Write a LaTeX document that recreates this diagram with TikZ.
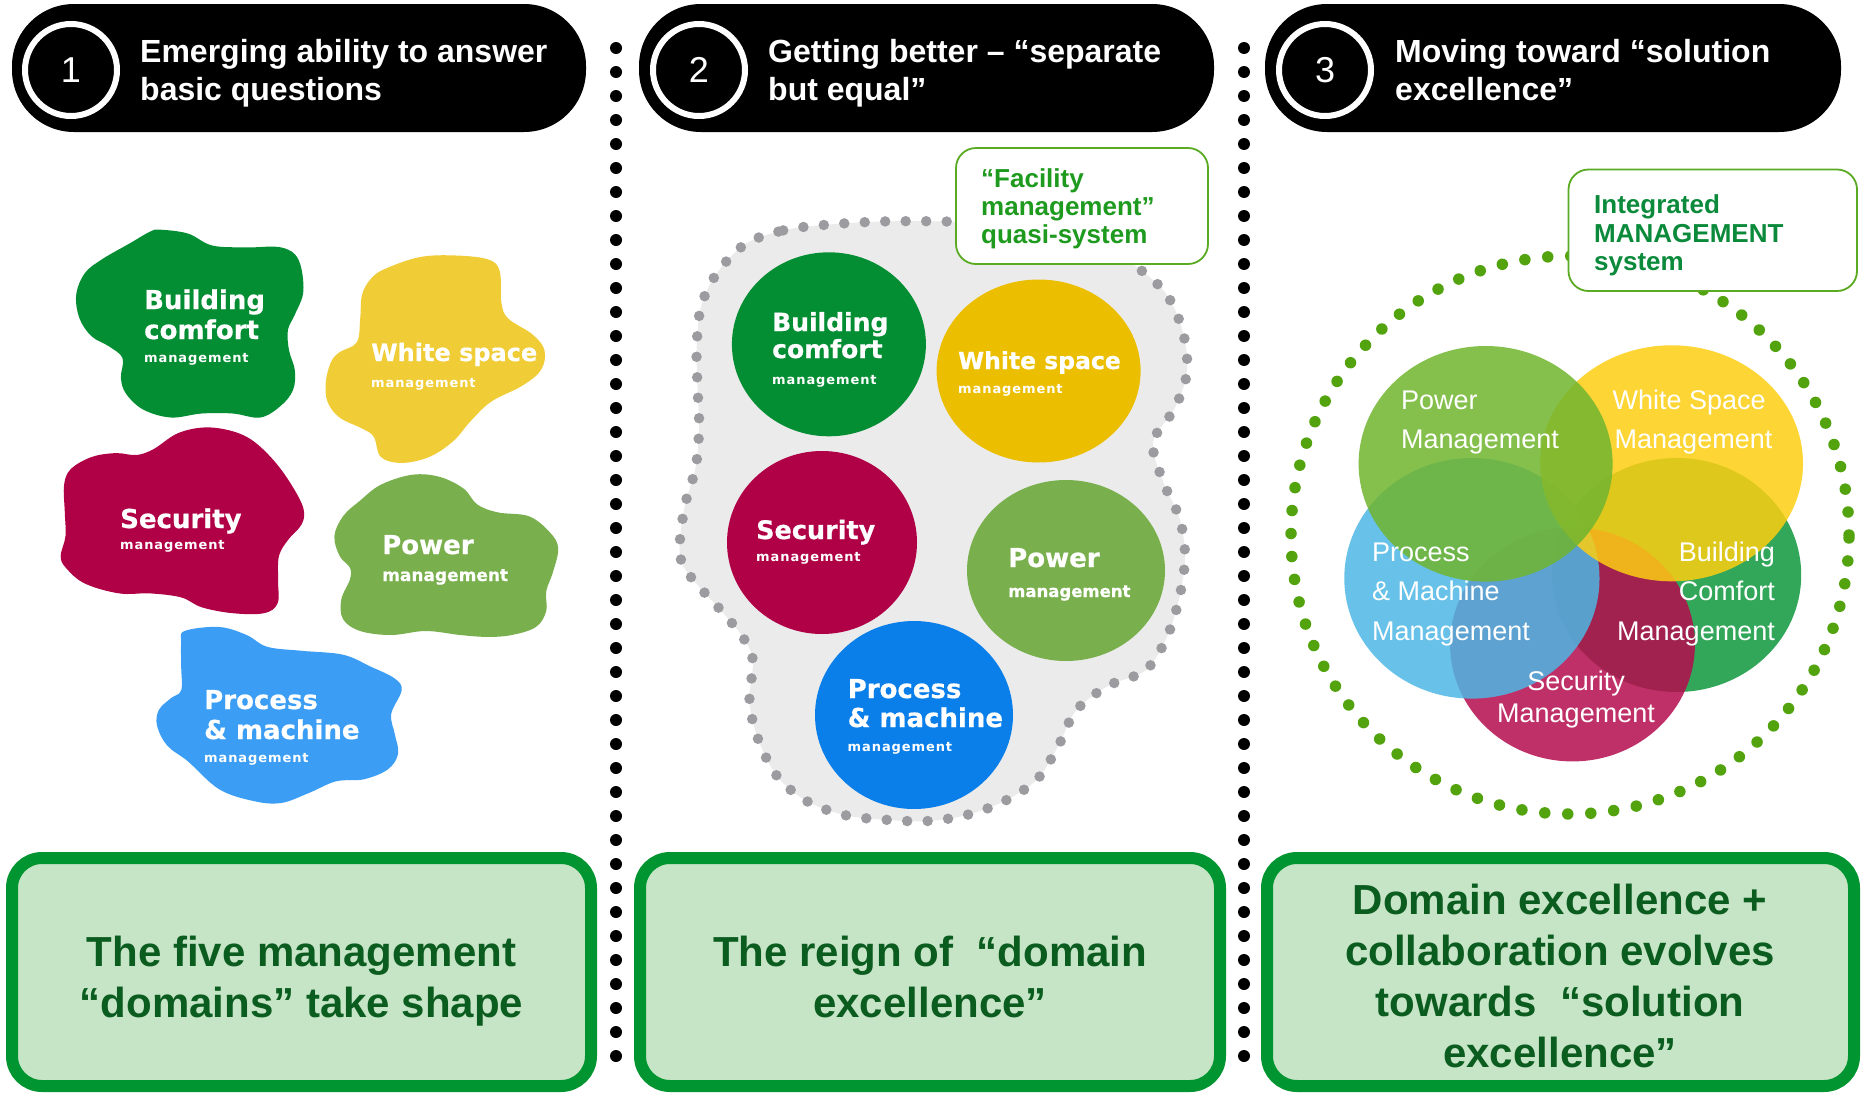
\documentclass[tikz,border=0pt]{standalone}
\usepackage{fontspec}
\setmainfont{Liberation Sans}
\newfontfamily\blobfont{DejaVu Sans}[BoldFeatures={FakeBold=0.6}]
\newfontfamily\blobspaced{DejaVu Sans}[LetterSpace=7.0]
\usetikzlibrary{shapes.geometric}
\definecolor{boxgreen}{HTML}{009530}
\definecolor{boxfill}{HTML}{C6E4C6}
\definecolor{txtgreen}{HTML}{0B5C1F}
\definecolor{bcgreen}{HTML}{048E34}
\definecolor{wsyellow}{HTML}{F0CC36}
\definecolor{secred}{HTML}{B00046}
\definecolor{pwgreen}{HTML}{79B04D}
\definecolor{prblue}{HTML}{3B9EF4}
\definecolor{wsyellowB}{HTML}{EBBF00}
\definecolor{prblueB}{HTML}{0A7FEA}
\definecolor{grayfill}{HTML}{EBEBEB}
\definecolor{graydot}{HTML}{9C9CA0}
\definecolor{lblgreen}{HTML}{5AAA22}
\definecolor{lbltxtA}{HTML}{1E9A1E}
\definecolor{lbltxtB}{HTML}{0A8A3A}
\definecolor{circdot}{HTML}{52A30E}
\definecolor{vpow}{HTML}{70B52F}
\definecolor{vws}{HTML}{FDCE12}
\definecolor{vpr}{HTML}{4DB7E4}
\definecolor{vbc}{HTML}{0F973D}
\definecolor{vsec}{HTML}{B50C4E}
\begin{document}
\begin{tikzpicture}[x=1pt,y=-1pt,
  pill/.style={fill=black, rounded corners=62pt},
  numring/.style={circle, draw=white, line width=6pt, minimum size=92pt, inner sep=0pt, text=white, font=\fontsize{36}{40}\selectfont},
  headtxt/.style={anchor=base west, text=white, inner sep=0pt, font=\fontsize{32}{38}\selectfont\bfseries},
  blobbig/.style={anchor=base west, text=white, inner sep=0pt, font=\blobfont\bfseries\fontsize{26}{30}\selectfont},
  blobsmall/.style={anchor=base west, text=white, inner sep=0pt, font=\blobspaced\bfseries\fontsize{13}{15}\selectfont},
  blobmid/.style={anchor=base west, text=white, inner sep=0pt, font=\blobfont\bfseries\fontsize{17}{20}\selectfont},
  venntxt/.style={text=white, inner sep=0pt, font=\fontsize{27}{32}\selectfont},
  lblbox/.style={draw=lblgreen, line width=1.8pt, fill=white, rounded corners=20pt},
  lbltxt/.style={anchor=base west, inner sep=0pt, font=\fontsize{26}{30}\selectfont\bfseries},
  botbox/.style={draw=boxgreen, line width=12pt, fill=boxfill, rounded corners=30pt},
  bottxt/.style={align=center, text=txtgreen, inner sep=0pt, font=\fontsize{42}{51}\selectfont\bfseries},
  sepdots/.style={line width=12pt, line cap=round, dash pattern=on 0pt off 24pt},
  vfill/.style={fill opacity=0.85}
]
\fill[white] (0,0) rectangle (1866,1095);
\useasboundingbox (0,0) rectangle (1866,1095);

% separators
\coordinate (s1t) at (616,48); \coordinate (s1b) at (616,1058);
\coordinate (s2t) at (1244,48); \coordinate (s2b) at (1244,1058);
\draw[sepdots] (s1t) -- (s1b);
\draw[sepdots] (s2t) -- (s2b);

% header pills
\fill[pill] (12,4) rectangle (586,132);
\fill[pill] (639,4) rectangle (1214,132);
\fill[pill] (1265,4) rectangle (1841,132);
\node[numring] (n1) at (71,70) {1};
\node[numring] (n2) at (699,70) {2};
\node[numring] (n3) at (1325,70) {3};
\node[headtxt] (h1a) at (140,62) {Emerging ability to answer};
\node[headtxt] (h1b) at (140,100) {basic questions};
\node[headtxt] (h2a) at (768,62) {Getting better – “separate};
\node[headtxt] (h2b) at (768,100) {but equal”};
\node[headtxt] (h3a) at (1395,62) {Moving toward “solution};
\node[headtxt] (h3b) at (1395,100) {excellence”};

% ---------- panel 1 blobs ----------
\fill[bcgreen] plot[smooth cycle, tension=0.6] coordinates {
 (160.5,229.7) (188.1,233.6) (212.2,245.5) (246.6,247.4) (281.0,247.4) (298.3,259.3)
 (303.4,290.9) (294.8,314.7) (287.9,330) (289,350.3) (294.8,370.0) (293.1,389.8)
 (281.0,405.6) (260.4,417.5) (232.8,413.5) (201.8,413.5) (170.9,417.5) (143.3,409.6)
 (126.1,393.8) (120.9,377.9) (122.6,358.2) (108.9,346.3) (91.7,336.4) (79.6,318.6)
 (76.2,294.9) (84.8,273.2) (102.0,259.3) (129.5,243.5) (150.2,231.6)};
\fill[wsyellow] plot[smooth cycle, tension=0.6] coordinates {
 (384.4,269.2) (418.8,257.3) (453.2,255.4) (487.7,259.3) (499.7,271.2) (501.4,302.8)
 (508.3,318.6) (532.4,334.4) (544.5,350.3) (541.0,370.0) (522.1,385.8) (491.1,401.7)
 (470.4,421.4) (453.2,441.2) (429.1,457.0) (401.6,462.9) (380.9,457.0) (374.0,437.2)
 (363.7,429.3) (339.6,417.5) (327.5,401.7) (325.8,381.9) (331.0,362.1) (339.6,352.2)
 (356.8,342.3) (360.2,318.6) (362.0,294.9) (370.6,279.1)};
\fill[secred] plot[smooth cycle, tension=0.6] coordinates {
 (153.6,449.1) (177.7,433.3) (205.3,427.4) (232.8,431.3) (253.5,441.2) (274.2,461.0)
 (291.4,484.7) (303.4,508.4) (301.7,524.2) (287.9,540.1) (279,555.9) (278,579.6)
 (277.6,603.3) (263.8,613.2) (232.8,613.2) (201.8,607.3) (181.2,597.4) (150.2,593.4)
 (119.2,593.4) (84.8,583.5) (65.8,567.7) (60.7,555.9) (65.5,536.1) (64.8,512.4)
 (64.1,484.7) (71.0,468.9) (91.7,457.0) (115.8,453.1) (136.4,455.0)};
\fill[pwgreen] plot[smooth cycle, tension=0.6] coordinates {
 (380.9,484.7) (411.9,474.8) (439.4,476.8) (463.6,488.6) (477.3,504.5) (498.0,512.4)
 (529.0,516.3) (549.6,532.1) (558.2,548.0) (553.1,571.7) (546.2,591.5) (546.2,611.2)
 (535.9,627.0) (511.8,635.0) (487.7,636.9) (460.1,635.0) (425.7,631.0) (391.2,635.0)
 (360.2,631.0) (343.0,619.1) (341.3,599.4) (349.9,579.6) (349.9,567.7) (339.6,555.9)
 (334.4,536.1) (343.0,516.3) (360.2,500.5)};
\fill[prblue] plot[smooth cycle, tension=0.6] coordinates {
 (184.6,631.0) (219.1,627.0) (246.6,635.0) (267.3,646.8) (301.7,650.8) (343.0,654.7)
 (370.6,666.6) (394.7,678.5) (401.6,690.3) (391.2,714.0) (394.7,733.8) (398.1,753.6)
 (387.8,769.4) (363.7,779.3) (336.1,781.3) (308.6,793.1) (281.0,803.0) (253.5,801.0)
 (219.1,789.2) (188.1,761.5) (167.4,745.7) (157.1,725.9) (158.8,710.1) (170.9,698.2)
 (181.2,690.3) (181.2,666.6) (181.2,642.9)};
\node[blobbig] (a1) at (144,309) {Building};
\node[blobbig] (a2) at (144,339) {comfort};
\node[blobsmall] (a3) at (144,362) {management};
\node[blobbig, font=\blobfont\bfseries\fontsize{24}{28}\selectfont] (b1) at (371,361) {White space};
\node[blobsmall] (b2) at (371,387) {management};
\node[blobbig] (c1) at (120,528) {Security};
\node[blobsmall] (c2) at (120,549) {management};
\node[blobbig] (d1) at (382,554) {Power};
\node[blobmid] (d2) at (382,581) {management};
\node[blobbig] (e1) at (204,709) {Process};
\node[blobbig] (e2) at (204,739) {\& machine};
\node[blobsmall] (e3) at (204,762) {management};

% ---------- panel 2 ----------
\path[fill=grayfill] plot[smooth cycle, tension=0.55] coordinates {
 (745.7,243.8) (783.2,230.4) (822.5,225.1) (881.4,221.5) (945.7,221.5) (999.3,223.8)
 (1052.9,230.4) (1106.4,250.5) (1138.6,268.4) (1167.1,295.2) (1183.2,333.1) (1186.8,373.3)
 (1174.3,409.0) (1153,442.5) (1163.6,482.7) (1179.6,518.4) (1185.0,556.3) (1179.6,596.5)
 (1167.1,636.7) (1145.7,670.2) (1108.2,685.8) (1076.1,710.4) (1058.2,746.1) (1036.8,779.6)
 (1002.9,801.9) (965.4,815.3) (926.1,821.1) (885.0,819.7) (845.7,815.3) (808.2,801.9)
 (777.9,777.3) (758.2,739.4) (749.5,701.4) (752.9,661.3) (743.5,638.2) (722.5,612.1)
 (697.7,585.1) (683.0,565.3) (679.6,545.2) (685.0,505.0) (695.7,467.1) (699.1,426.9)
 (697.5,386.7) (696.7,346.5) (701.1,306.3) (717.1,272.9)};
\draw[graydot, line width=10.5pt, line cap=round, dash pattern=on 0pt off 20.5pt] plot[smooth cycle, tension=0.55] coordinates {
 (745.7,243.8) (783.2,230.4) (822.5,225.1) (881.4,221.5) (945.7,221.5) (999.3,223.8)
 (1052.9,230.4) (1106.4,250.5) (1138.6,268.4) (1167.1,295.2) (1183.2,333.1) (1186.8,373.3)
 (1174.3,409.0) (1153,442.5) (1163.6,482.7) (1179.6,518.4) (1185.0,556.3) (1179.6,596.5)
 (1167.1,636.7) (1145.7,670.2) (1108.2,685.8) (1076.1,710.4) (1058.2,746.1) (1036.8,779.6)
 (1002.9,801.9) (965.4,815.3) (926.1,821.1) (885.0,819.7) (845.7,815.3) (808.2,801.9)
 (777.9,777.3) (758.2,739.4) (749.5,701.4) (752.9,661.3) (743.5,638.2) (722.5,612.1)
 (697.7,585.1) (683.0,565.3) (679.6,545.2) (685.0,505.0) (695.7,467.1) (699.1,426.9)
 (697.5,386.7) (696.7,346.5) (701.1,306.3) (717.1,272.9)};
\fill[bcgreen] (828.9,344.3) ellipse [x radius=97pt, y radius=92pt];
\fill[wsyellowB] (1038.6,371) ellipse [x radius=102pt, y radius=91.5pt];
\fill[secred] (822,542.5) ellipse [x radius=95pt, y radius=91.5pt];
\fill[pwgreen] (1066,570.5) ellipse [x radius=99pt, y radius=90.5pt];
\fill[prblueB] (914,715) ellipse [x radius=99pt, y radius=94pt];
\node[blobbig, font=\blobfont\bfseries\fontsize{25}{29}\selectfont] (f1) at (772,331) {Building};
\node[blobbig, font=\blobfont\bfseries\fontsize{25}{29}\selectfont] (f2) at (772,358) {comfort};
\node[blobsmall] (f3) at (772,384) {management};
\node[blobbig, font=\blobfont\bfseries\fontsize{23.5}{28}\selectfont] (g1) at (958,369) {White space};
\node[blobsmall] (g2) at (958,393) {management};
\node[blobbig, font=\blobfont\bfseries\fontsize{25.5}{29}\selectfont] (k1) at (756,539) {Security};
\node[blobsmall] (k2) at (756,561) {management};
\node[blobbig] (p1) at (1008,567) {Power};
\node[blobmid, font=\blobfont\bfseries\fontsize{16.5}{20}\selectfont] (p2) at (1008,597) {management};
\node[blobbig] (q1) at (847.5,698) {Process};
\node[blobbig] (q2) at (847.5,727) {\& machine};
\node[blobsmall] (q3) at (847.5,751) {management};
\draw[lblbox] (956,148) rectangle (1208,264);
\node[lbltxt, text=lbltxtA] (L2a) at (981,187) {“Facility};
\node[lbltxt, text=lbltxtA] (L2b) at (981,215) {management”};
\node[lbltxt, text=lbltxtA] (L2c) at (981,243) {quasi-system};

% ---------- panel 3 ----------
\draw[circdot, line width=11.5pt, line cap=round, dash pattern=on 0pt off 23.03pt] (1570,535) circle (279pt);
\fill[vbc, vfill] (1676.5,575) ellipse [x radius=124.7pt, y radius=117pt];
\fill[vsec, vfill] (1572.5,644.4) ellipse [x radius=122.4pt, y radius=117pt];
\fill[vpr, vfill] (1471.9,578.3) ellipse [x radius=127.6pt, y radius=120.3pt];
\fill[vws, vfill] (1671.6,463.3) ellipse [x radius=131.4pt, y radius=118pt];
\fill[vpow, vfill] (1485.6,463.8) ellipse [x radius=127pt, y radius=117.8pt];
\node[venntxt, anchor=base west] (v1) at (1401,409) {Power};
\node[venntxt, anchor=base west] (v2) at (1401,448) {Management};
\node[venntxt, anchor=base west] (v3) at (1612.5,409) {White Space};
\node[venntxt, anchor=base west] (v4) at (1614.5,448) {Management};
\node[venntxt, anchor=base west] (v5) at (1372,561) {Process};
\node[venntxt, anchor=base west] (v6) at (1372,600) {\& Machine};
\node[venntxt, anchor=base west] (v7) at (1372,640) {Management};
\node[venntxt, anchor=base east] (v8) at (1775,561) {Building};
\node[venntxt, anchor=base east] (v9) at (1775,600) {Comfort};
\node[venntxt, anchor=base east] (v10) at (1775,640) {Management};
\node[venntxt, anchor=base] (v11) at (1576,690) {Security};
\node[venntxt, anchor=base] (v12) at (1576,722) {Management};
\draw[lblbox] (1568.5,169.5) rectangle (1857,291);
\node[lbltxt, text=lbltxtB] (L3a) at (1594,213) {Integrated};
\node[lbltxt, text=lbltxtB] (L3b) at (1594,242) {MANAGEMENT};
\node[lbltxt, text=lbltxtB] (L3c) at (1594,270) {system};

% ---------- bottom boxes ----------
\draw[botbox] (12,858) rectangle (591,1086);
\draw[botbox] (640,858) rectangle (1220,1086);
\draw[botbox] (1267,858) rectangle (1854,1086);
\node[bottxt] (t1) at (301.5,981) {The five management\\“domains” take shape};
\node[bottxt] (t2) at (930,977) {The reign of \ “domain\\excellence”};
\node[bottxt] (t3) at (1560,976) {Domain excellence +\\collaboration evolves\\towards \ “solution\\excellence”};
\end{tikzpicture}
\end{document}
